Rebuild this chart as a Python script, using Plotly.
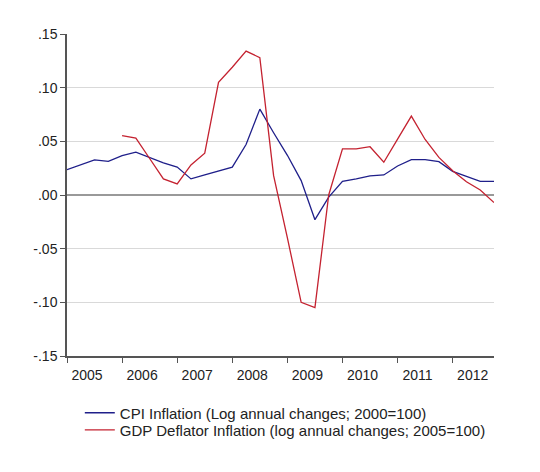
#!/usr/bin/env python3

# CPI vs GDP deflator inflation, quarterly 2005Q1-2012Q4

import plotly.graph_objs as go

START_YEAR = 2005
YEARS = [2005, 2006, 2007, 2008, 2009, 2010, 2011, 2012]

# log annual changes, one value per quarter
cpi_inflation = [
    0.0236, 0.028, 0.0327, 0.0314, 0.0367, 0.040, 0.035, 0.030,
    0.026, 0.015, 0.0187, 0.022, 0.026, 0.047, 0.080, 0.058,
    0.037, 0.0134, -0.023, -0.002, 0.0127, 0.015, 0.0178, 0.0187,
    0.027, 0.033, 0.033, 0.031, 0.022, 0.0174, 0.0127, 0.0127,
]
gdp_deflator_inflation = [
    None, None, None, None, 0.0554, 0.053, 0.034, 0.015,
    0.0103, 0.028, 0.039, 0.105, 0.119, 0.134, 0.128, 0.018,
    -0.040, -0.100, -0.105, 0.0, 0.043, 0.043, 0.045, 0.0305,
    0.052, 0.0735, 0.0517, 0.035, 0.0227, 0.0124, 0.0047, -0.007,
]

y_ticks = [0.15, 0.10, 0.05, 0.0, -0.05, -0.10, -0.15]
y_tick_text = [".15", ".10", ".05", ".00", "-.05", "-.10", "-.15"]

quarters = [START_YEAR + i * 0.25 for i in range(len(cpi_inflation))]

FONT = "Liberation Sans, Arial, sans-serif"

fig = go.Figure()

fig.add_trace(go.Scatter(
    x=quarters,
    y=cpi_inflation,
    mode="lines",
    line=dict(color="#1f1f8a", width=1.3),
    name="CPI Inflation (Log annual changes; 2000=100)",
    legend="legend",
))
fig.add_trace(go.Scatter(
    x=quarters,
    y=gdp_deflator_inflation,
    mode="lines",
    line=dict(color="#c42230", width=1.3),
    connectgaps=False,
    name="GDP Deflator Inflation (log annual changes; 2005=100)",
    legend="legend2",
))

# one legend per row so the rows sit close together like the original
legend_style = dict(
    x=0.03, xanchor="left", yanchor="middle",
    itemwidth=30, font=dict(size=15),
    bgcolor="rgba(0,0,0,0)",
)

# the page puts the figure 8px in from the top-left corner
fig.update_layout(
    width=540,
    height=472,
    paper_bgcolor="white",
    plot_bgcolor="white",
    margin=dict(l=59, r=54, t=26, b=124),
    font=dict(family=FONT, size=14, color="#222222"),
    showlegend=True,
    legend=dict(y=-0.177, **legend_style),
    legend2=dict(y=-0.23, **legend_style),
    xaxis=dict(
        range=[quarters[0], quarters[-1]],
        tickvals=YEARS,
        ticktext=[str(y) for y in YEARS],
        ticklabelshift=20,
        ticks="outside", ticklen=5, tickcolor="#555555",
        showline=True, linecolor="#555555", linewidth=1.5,
        showgrid=False, zeroline=False,
    ),
    yaxis=dict(
        range=[-0.15, 0.15],
        tickvals=y_ticks,
        ticktext=y_tick_text,
        ticks="outside", ticklen=5, tickcolor="#555555",
        showline=True, linecolor="#555555", linewidth=1.5,
        showgrid=True, gridcolor="#d9d9d9", gridwidth=1,
        zeroline=True, zerolinecolor="#999999", zerolinewidth=1.5,
    ),
)

fig.write_html("out.html")
